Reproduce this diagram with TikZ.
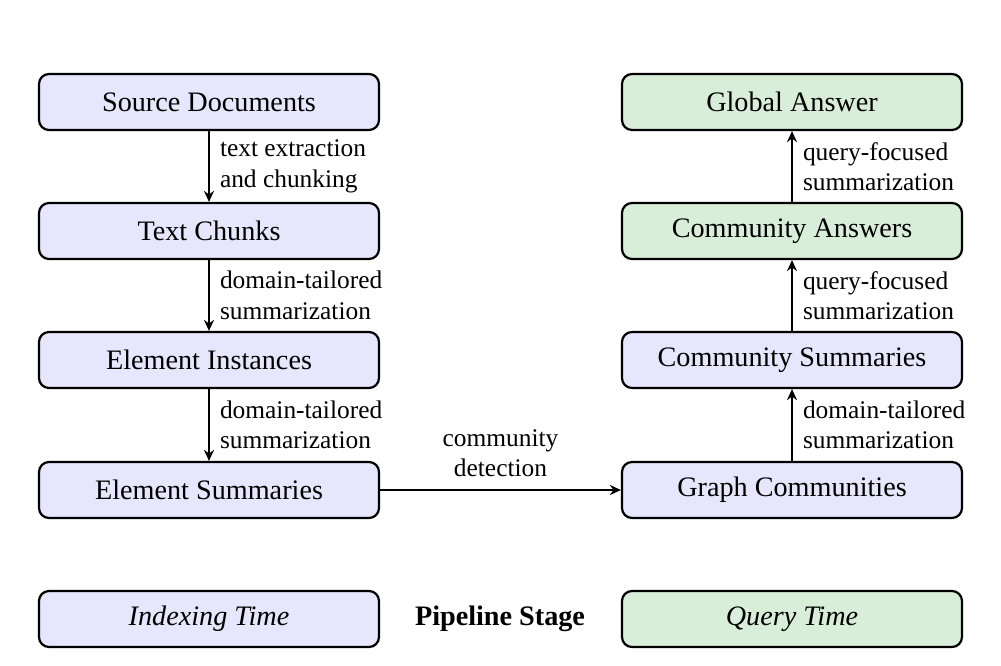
\documentclass[tikz,border=0pt]{standalone}
\usepackage{fontspec}
\setmainfont{Liberation Serif}
\usetikzlibrary{arrows.meta}
\definecolor{idxfill}{RGB}{230,230,252}
\definecolor{qryfill}{RGB}{217,238,217}
\begin{document}
\begin{tikzpicture}[x=0.5pt,y=-0.5pt,
  stagebox/.style={draw=black,line width=1.1pt,rounded corners=5pt,minimum width=170pt,minimum height=28pt,inner sep=0pt,font=\fontsize{14.1}{17}\selectfont},
  idx/.style={stagebox,fill=idxfill},
  qry/.style={stagebox,fill=qryfill},
  flow/.style={line width=1pt,-{Stealth[length=5.5pt,width=5pt,inset=1.8pt]}},
  lbl/.style={font=\fontsize{12.7}{15.2}\selectfont,align=left,inner sep=0pt}]
\useasboundingbox (0,0) rectangle (1001,665);
% left column
\node[idx] (src) at (209,102) {Source Documents};
\node[idx] (chk) at (209,231) {Text Chunks};
\node[idx] (ein) at (209,360) {Element Instances};
\node[idx] (esu) at (209,490) {Element Summaries};
% right column
\node[qry] (gan) at (792,102) {Global Answer};
\node[qry] (can) at (792,231) {Community Answers};
\node[idx] (csu) at (792,360) {Community Summaries};
\node[idx] (gco) at (792,490) {Graph Communities};
% legend
\node[idx] (itime) at (209,619) {\itshape Indexing Time};
\node[font=\fontsize{14.1}{17}\selectfont\bfseries] (pst) at (500,619) {Pipeline Stage};
\node[qry] (qtime) at (792,619) {\itshape Query Time};
% arrows
\draw[flow] (src) -- (chk) node[midway,right=5pt,lbl] {text extraction\\and chunking};
\draw[flow] (chk) -- (ein) node[midway,right=5pt,lbl] {domain-tailored\\summarization};
\draw[flow] (ein) -- (esu) node[midway,right=5pt,lbl] {domain-tailored\\summarization};
\draw[flow] (esu) -- (gco) node[midway,above=6pt,lbl,align=center] {community\\detection};
\draw[flow] (gco) -- (csu) node[midway,right=5pt,lbl] {domain-tailored\\summarization};
\draw[flow] (csu) -- (can) node[midway,right=5pt,lbl] {query-focused\\summarization};
\draw[flow] (can) -- (gan) node[midway,right=5pt,lbl] {query-focused\\summarization};
\end{tikzpicture}
\end{document}
